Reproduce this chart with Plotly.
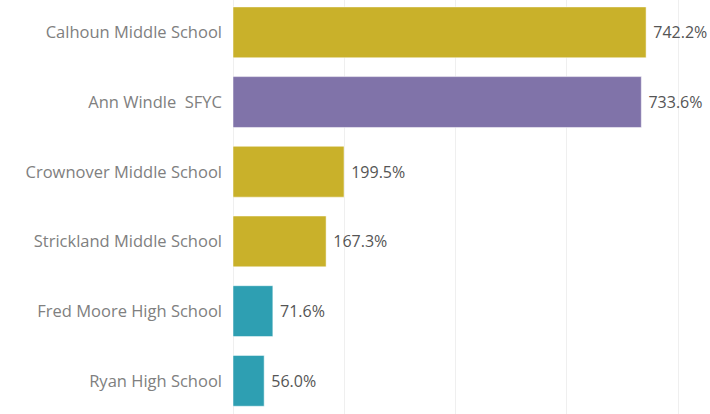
import plotly.graph_objects as go

schools = ["Calhoun Middle School", "Ann Windle  SFYC", "Crownover Middle School",
           "Strickland Middle School", "Fred Moore High School", "Ryan High School"]
values = [742.2, 733.6, 199.5, 167.3, 71.6, 56.0]
colors = ["#C9B12A", "#8073A9", "#C9B12A", "#C9B12A", "#2E9FB2", "#2E9FB2"]
labels = [f"{v:.1f}%" for v in values]

FONT = "Open Sans, Lato, sans-serif"

fig = go.Figure(go.Bar(
    x=values, y=schools, orientation="h",
    marker=dict(color=colors, line=dict(color="rgba(255,255,255,0.5)", width=1)),
    text=labels, texttemplate=" %{text}", textposition="outside", cliponaxis=False,
    textfont=dict(family=FONT, size=16, color="#555555"),
    width=0.73,
))
fig.update_layout(
    width=710, height=414,
    margin=dict(l=233, r=0, t=0, b=0, autoexpand=False),
    paper_bgcolor="white", plot_bgcolor="white",
    showlegend=False,
    font=dict(family=FONT, size=16.5, color="#808080"),
)
fig.update_xaxes(range=[0, 857], tickvals=[0, 200, 400, 600, 800], showticklabels=False,
                 showgrid=True, gridcolor="#EFEFEF", gridwidth=1, zeroline=True,
                 zerolinecolor="#EFEFEF", zerolinewidth=1)
fig.update_yaxes(range=[5.476, -0.464], ticks="", ticklabelstandoff=10, automargin=False,
                 tickfont=dict(family=FONT, size=16.5, color="#808080"))
fig.write_html("out.html", config={"displayModeBar": False},
               post_script="document.body.style.margin='0px';")
